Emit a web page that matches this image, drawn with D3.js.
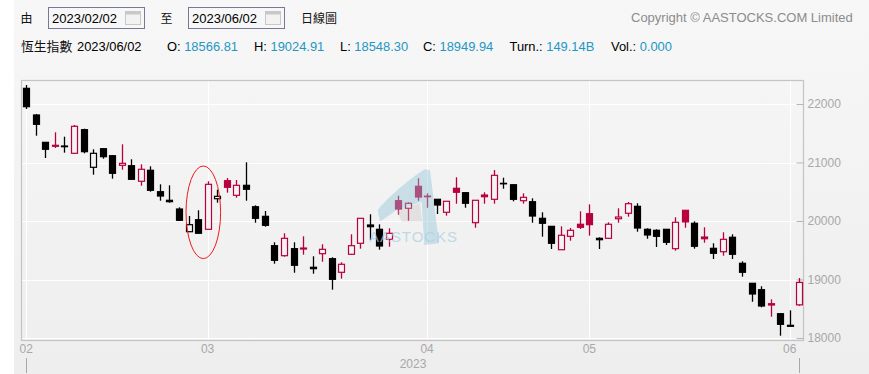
<!DOCTYPE html>
<html>
<head>
<meta charset="utf-8">
<script src="https://cdn.jsdelivr.net/npm/d3@7"></script>
<style>
html, body { margin: 0; padding: 0; background: #fff; }
#chart { display: block; }
text { font-family: "Liberation Sans", Arial, sans-serif; }
</style>
</head>
<body>
<svg id="chart" width="869" height="374"></svg>
<script>
// daily candles
const opens = [22268,21812,21345,21277,21282,21157,21561,20918,21236,21116,20952,20945,20679,20867,20501,20354,20205,19817,20022,19858,
  20381,20689,20439,20610,20244,20080,19578,19407,19527,19521,19209,19441,19356,19123,19431,19619,19932,19858,19687,20347,
  20217,20593,20425,20371,20149,20559,20484,19971,20444,20371,20644,20620,20347,20330,20046,19909,19509,19738,19944,20125,
  19704,19704,20039,20132,20251,19858,19841,19858,19527,20183,19961,19726,19533,19475,19722,19277,18935,18826,18586,18415,18217,18566.81]
const highs = [22325,21829,21350,21516,21441,21641,21578,21226,21248,21123,21311,21055,20969,20935,20627,20610,20234,20085,20183,20679,
  20535,20735,20701,21003,20268,20171,19636,19790,19636,19738,19397,19602,19380,19294,19773,20046,20115,19943,19875,20432,
  20320,20730,20473,20371,20337,20747,20491,20354,20491,20872,20740,20627,20473,20388,20149,19915,19909,19880,20166,20285,
  19721,19978,20217,20325,20303,19875,19858,19863,20063,20188,19995,19892,19619,19807,19773,19311,18940,18884,18661,18422,18473,19024.91]
const lows = [21915,21458,21077,21248,21168,21150,21157,20791,21065,20723,20877,20713,20603,20501,20347,20313,20000,19817,19790,19858,
  20313,20484,20398,20347,19971,19903,19270,19390,19116,19424,19099,19304,18826,19014,19424,19527,19675,19510,19561,20108,
  20005,20347,20227,20120,20091,20296,20227,19885,20296,20296,20552,20337,20296,19971,19732,19521,19509,19663,19863,19749,
  19521,19697,19971,20074,19817,19697,19556,19590,19492,19885,19527,19629,19350,19407,19350,19048,18620,18525,18364,18039,18193,18548.30]
const closes = [21954,21653,21226,21294,21270,21619,21185,21157,21099,20815,20986,20713,20884,20525,20427,20330,20012,19937,19790,20627,
  20422,20576,20610,20542,20046,19926,19328,19704,19243,19538,19185,19516,19003,19260,19578,20046,19903,19573,19790,20205,
  20303,20410,20415,20273,20337,20491,20303,20354,20415,20781,20638,20371,20405,20085,19961,19619,19756,19841,19892,19937,
  19680,19944,20068,20296,19880,19761,19738,19636,19978,19985,19568,19697,19448,19687,19431,19123,18752,18547,18564,18234,18200,18949.94]

const monthLabels = ["02","03","04","05","06"]
const monthIndex = [0,19,42,59,80]
const yearLabel = "2023"
const yTicks = [18000,19000,20000,21000,22000]

const infoItems = [["O:","18566.81"],["H:","19024.91"],["L:","18548.30"],["C:","18949.94"],["Turn.:","149.14B"],["Vol.:","0.000"]]
const infoX = [167,254,340,423,509.5,611]

const upColor = "#b8003f", downColor = "#000"

var svg = d3.select("#chart")

// page background
var defs = svg.append("defs")
var bg = defs.append("linearGradient").attr("id","bg").attr("x1",0).attr("y1",0).attr("x2",0).attr("y2",1)
bg.append("stop").attr("offset","0%").attr("stop-color","#f7f7f7")
bg.append("stop").attr("offset","100%").attr("stop-color","#eeeeee")
svg.append("rect").attr("width",869).attr("height",374).attr("fill","#fff")
svg.append("rect").attr("x",14).attr("width",855).attr("height",374).attr("fill","url(#bg)")

const plot = { left: 21.5, right: 803.5, top: 80.5, bottom: 340.5 }

var x = d3.scaleLinear().domain([0, 81]).range([26.3, 799.3])
var y = d3.scaleLinear().domain([18000, 22000]).range([338, 104])

// grid
var grid = svg.append("g")
grid.selectAll(".h").data(yTicks).enter().append("line")
  .attr("x1", plot.left).attr("x2", plot.right)
  .attr("y1", d => Math.round(y(d)) + 0.5).attr("y2", d => Math.round(y(d)) + 0.5)
  .attr("stroke", "#fff")
grid.selectAll(".v").data(monthIndex).enter().append("line")
  .attr("x1", d => Math.round(x(d)) + 0.5).attr("x2", d => Math.round(x(d)) + 0.5)
  .attr("y1", plot.top).attr("y2", plot.bottom)
  .attr("stroke", "#fff")

// frame
svg.append("rect")
  .attr("x", plot.left).attr("y", plot.top)
  .attr("width", plot.right - plot.left).attr("height", plot.bottom - plot.top)
  .attr("fill", "none").attr("stroke", "#c4c4c4").attr("stroke-width", 1.2)

// y axis on the right
var yAxis = svg.append("g")
  .attr("transform", "translate(" + plot.right + ",0)")
  .call(d3.axisRight(y).tickValues(yTicks).tickSize(0).tickPadding(4).tickFormat(d3.format("d")))
yAxis.select(".domain").remove()
yAxis.selectAll("text").attr("fill", "#a8a8a8").style("font-size", "12px")
yAxis.selectAll(".tick").append("line")
  .attr("x1", -7).attr("x2", 0).attr("stroke", "#b5b5b5")

// month labels
svg.selectAll(".month").data(monthIndex).enter().append("text")
  .attr("x", d => x(d)).attr("y", 353)
  .attr("text-anchor", "middle").attr("fill", "#a8a8a8").style("font-size", "12px")
  .text((d, i) => monthLabels[i])
svg.append("text").attr("x", 413).attr("y", 368).attr("text-anchor", "middle")
  .attr("fill", "#a8a8a8").style("font-size", "12px").text(yearLabel)
// year edges
svg.selectAll(".edge").data([0, 81]).enter().append("line")
  .attr("x1", d => Math.round(x(d)) + 0.5).attr("x2", d => Math.round(x(d)) + 0.5)
  .attr("y1", 358).attr("y2", 373).attr("stroke", "#a8a8a8")

// candles
var bodyW = 6
var candles = svg.append("g").selectAll("g").data(closes).enter().append("g")
  .each(function (c, i) {
    var o = opens[i]
    var color = i != 0 && c > closes[i - 1] ? upColor : downColor
    var g = d3.select(this)
    var cx = Math.round(x(i)) + 0.5
    g.append("line")
      .attr("x1", cx).attr("x2", cx)
      .attr("y1", y(highs[i])).attr("y2", y(lows[i]))
      .attr("stroke", color).attr("stroke-width", 1.3)
    var top = y(Math.max(o, c)), bot = y(Math.min(o, c))
    g.append("rect")
      .attr("x", cx - bodyW / 2).attr("width", bodyW)
      .attr("y", top).attr("height", Math.max(bot - top, 0.5))
      .attr("fill", c > o ? "#f4f4f4" : color)
      .attr("stroke", color).attr("stroke-width", 1.2)
  })

// ring drawn round the reversal day
svg.append("ellipse")
  .attr("cx", 203.3).attr("cy", 212.3).attr("rx", 17.3).attr("ry", 46.3)
  .attr("fill", "none").attr("stroke", "#f01a1a").attr("stroke-width", 1)

// watermark
var mark = svg.append("g")
mark.append("path")
  .attr("d", "M377.7,210 C390,195 412,177 425,169.3 L430,170 L439,243.3 L424.3,245 L421.7,201.7 L396.7,210 L380,221.7 Z")
  .attr("fill", "#8fc3d8").attr("opacity", 0.42)
mark.append("path")
  .attr("d", "M396.7,210 L420,203.3 L422.3,221.7 L401.7,221.7 Z")
  .attr("fill", "#c4c4c4").attr("opacity", 0.35)
mark.append("text").attr("x", 369).attr("y", 241.7)
  .attr("fill", "#a9d0e2").attr("opacity", 0.7).style("font-size", "15px")
  .attr("textLength", 88).text("AASTOCKS")

// top controls
var head = svg.append("g")
function label(tx, ty, txt, size, fill, fam) {
  var t = head.append("text").attr("x", tx).attr("y", ty).attr("fill", fill).style("font-size", size + "px").text(txt)
  if (fam) t.style("font-family", fam)
  return t
}
const cjk = '"Noto Sans CJK TC", "Liberation Sans", sans-serif'
label(20.5, 23, "由", 12, "#111", cjk)
label(160.5, 23, "至", 12, "#111", cjk)
label(301, 23, "日線圖", 12, "#111", cjk)
label(631, 22, "Copyright © AASTOCKS.COM Limited", 13, "#8c8c8c")
label(21, 51, "恆生指數", 12.8, "#111", cjk)
label(77, 51, "2023/06/02", 12.9, "#000")

;[[48, "2023/02/02"], [188, "2023/06/02"]].forEach(function (d) {
  head.append("rect").attr("x", d[0] + 0.5).attr("y", 7.5).attr("width", 96).attr("height", 21)
    .attr("fill", "#f7f7f7").attr("stroke", "#77779a").attr("stroke-width", 1)
  label(d[0] + 4, 23.3, d[1], 13, "#000")
  head.append("rect").attr("x", d[0] + 77.5).attr("y", 11.5).attr("width", 15).attr("height", 13)
    .attr("fill", "#f2f2f2").attr("stroke", "#c8c8c8")
  head.append("rect").attr("x", d[0] + 77.5).attr("y", 11.5).attr("width", 15).attr("height", 3)
    .attr("fill", "#c8c8c8")
})

infoItems.forEach(function (d, i) {
  var t = head.append("text").attr("x", infoX[i]).attr("y", 51).style("font-size", "12.9px").attr("fill", "#000")
  t.append("tspan").text(d[0] + " ")
  t.append("tspan").attr("fill", "#1f97c4").text(d[1])
})
</script>
</body>
</html>
